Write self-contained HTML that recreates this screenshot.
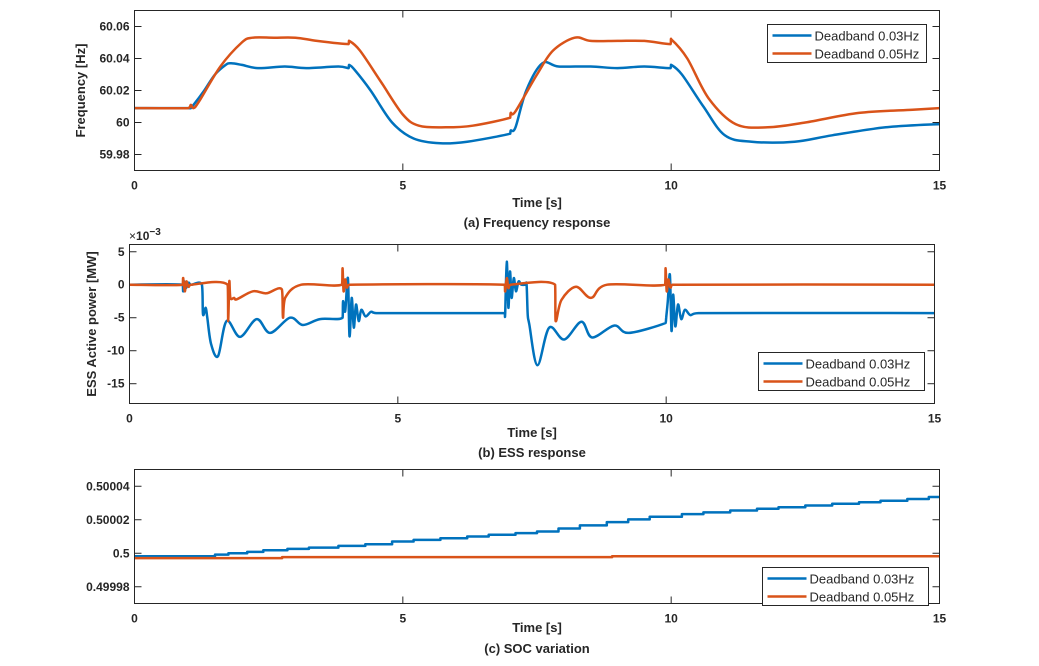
<!DOCTYPE html>
<html><head><meta charset="utf-8">
<style>
body{margin:0;background:#fff;}
svg text{font-family:"Liberation Sans",Arial,sans-serif;fill:#262626;}
.tk{font-size:12px;font-weight:bold;}
.lb{font-size:13px;font-weight:bold;}
.lg{font-size:13px;}
</style></head>
<body>
<svg id="fig" width="1039" height="661" viewBox="0 0 1039 661" xmlns="http://www.w3.org/2000/svg">
<rect width="1039" height="661" fill="#fff"/>
</svg>
<script>
// ---- Panel (a) frequency ----
const freqT = [0,1.0,1.05,1.1,1.3,1.5,1.7,1.8,2.0,2.3,2.8,3.2,3.8,3.99,4.0,4.1,4.4,4.8,5.2,5.7,6.2,7.0,7.01,7.1,7.3,7.6,7.9,8.5,9.0,9.5,9.99,10.0,10.2,10.6,11.0,11.5,12.3,13.0,14.0,15.0];
const freqBlue = [60.009,60.009,60.009,60.011,60.02,60.03,60.036,60.037,60.036,60.034,60.035,60.034,60.035,60.034,60.036,60.033,60.02,60.0,59.99,59.987,59.988,59.993,59.995,59.997,60.02,60.037,60.035,60.035,60.034,60.035,60.034,60.036,60.03,60.01,59.992,59.988,59.988,59.992,59.997,59.999];
const freqRedT = [0,1.0,1.05,1.1,1.2,1.6,2.0,2.2,2.6,3.0,3.4,3.99,4.0,4.2,4.6,5.0,5.3,5.8,6.3,7.0,7.01,7.1,7.5,7.8,8.2,8.5,9.0,9.5,9.99,10.0,10.3,10.7,11.2,11.8,12.5,13.5,14.5,15.0];
const freqRed = [60.009,60.009,60.011,60.009,60.013,60.035,60.05,60.053,60.053,60.053,60.051,60.049,60.051,60.045,60.025,60.005,59.998,59.997,59.998,60.003,60.006,60.007,60.03,60.045,60.053,60.051,60.051,60.051,60.049,60.052,60.04,60.015,59.999,59.997,60.0,60.006,60.008,60.009];
const freqTicks = [59.98,60,60.02,60.04,60.06];
const freqTickLabels = ["59.98","60","60.02","60.04","60.06"];
// ---- Panel (b) ESS power (x1e-3 MW) ----
const essBlueT = [0,0.99,1.0,1.02,1.05,1.1,1.15,1.35,1.37,1.42,1.45,1.52,1.65,1.81,2.06,2.37,2.62,2.99,3.23,3.55,3.97,3.98,4.02,4.07,4.1,4.14,4.18,4.22,4.27,4.32,4.4,4.5,4.6,6.99,7.0,7.03,7.06,7.09,7.12,7.16,7.2,7.25,7.3,7.38,7.4,7.42,7.45,7.6,7.82,8.1,8.42,8.62,9.03,9.3,9.99,10.0,10.03,10.07,10.1,10.13,10.17,10.22,10.28,10.35,10.45,10.6,15];
const essBlue = [0,0,-1,0.5,-0.5,0.3,0,0,-4.5,-3.5,-5,-9,-10.8,-5.5,-7.9,-5.2,-7.3,-5,-6.1,-5.2,-5,-2.5,-4,1,-7.8,-2,-6.5,-3,-5.5,-3.8,-4.8,-4.1,-4.3,-4.3,-4.3,3.5,-3.5,2,-2,1,-1,0.5,0,0,0,-4.5,-6,-12.2,-6.5,-8.3,-5.6,-8,-6.2,-7.3,-5.8,-5,-2.5,1.5,-7,-1.5,-6.3,-3,-5.2,-3.8,-4.6,-4.3,-4.3];
const essRedT = [0,0.99,1.0,1.03,1.06,1.1,1.15,1.83,1.84,1.86,1.88,1.95,2.0,2.3,2.55,2.84,2.86,2.9,3.2,3.96,3.97,3.99,4.02,4.05,4.1,6.99,7.0,7.03,7.06,7.1,7.93,7.94,8.05,8.32,8.6,8.9,9.98,9.99,10.01,10.04,10.08,10.12,15];
const essRed = [0,0,1,-1,0.5,-0.3,0,0,-5.5,0.5,-2,-2,-2.2,-1,-1.3,-0.7,-5,-2,0,0,2.5,-1,0.8,-0.4,0,0,-1,1,-0.5,0,0,-5.5,-2.3,-0.3,-2,0,0,2.5,-1,0.8,-0.4,0,0];
const essTicks = [-15,-10,-5,0,5];
const essTickLabels = ["-15","-10","-5","0","5"];
// ---- Panel (c) SOC (offset from 0.5, x1e-6) ----
const socBlueT = [0,1.5,1.75,2.1,2.4,2.85,3.25,3.8,4.3,4.8,5.2,5.7,6.2,6.6,7.1,7.5,7.9,8.3,8.8,9.2,9.6,10.2,10.6,11.1,11.6,12.0,12.5,13.0,13.5,13.9,14.4,14.8,15];
const socBlue = [-1.8,-0.8,0,0.8,1.8,2.6,3.4,4.4,5.4,7.0,8.0,9.0,10.0,11.0,12.0,13.0,14.8,16.6,18.6,20.2,21.8,23.4,24.4,25.5,26.6,27.5,28.5,29.5,30.5,31.4,32.4,33.6,33.6];
const socRedT = [0,2.75,8.9,15];
const socRed = [-2.9,-2.3,-1.8,-1.8];
const socTicks = [-20,0,20,40];
const socTickLabels = ["0.49998","0.5","0.50002","0.50004"];
const xTicks = [0,5,10,15];
const xTickLabels = ["0","5","10","15"];

const NS="http://www.w3.org/2000/svg";
const svg=document.getElementById('fig');
function mk(tag,attrs,parent){const e=document.createElementNS(NS,tag);for(const k in attrs)e.setAttribute(k,attrs[k]);(parent||svg).appendChild(e);return e;}

function smoothPath(pts){
  let d='M'+pts[0][0].toFixed(1)+','+pts[0][1].toFixed(1);
  for(let i=0;i<pts.length-1;i++){
    const p0=pts[Math.max(0,i-1)],p1=pts[i],p2=pts[i+1],p3=pts[Math.min(pts.length-1,i+2)];
    const c1x=p1[0]+(p2[0]-p0[0])/6,c1y=p1[1]+(p2[1]-p0[1])/6;
    const c2x=p2[0]-(p3[0]-p1[0])/6,c2y=p2[1]-(p3[1]-p1[1])/6;
    // keep control x within segment
    const cx1=Math.min(Math.max(c1x,p1[0]),p2[0]),cx2=Math.min(Math.max(c2x,p1[0]),p2[0]);
    d+='C'+cx1.toFixed(1)+','+c1y.toFixed(1)+' '+cx2.toFixed(1)+','+c2y.toFixed(1)+' '+p2[0].toFixed(1)+','+p2[1].toFixed(1);
  }
  return d;
}

function panel(cfg){
  const g=mk('g',{});
  
  
  const {x0,x1,y0,y1,ymin,ymax}=cfg;
  const sx=t=>x0+(t-0)/(15-0)*(x1-x0);
  const sy=v=>y1-(v-ymin)/(ymax-ymin)*(y1-y0);
  xTicks.forEach((t,i)=>{
    const x=sx(t);
    const a=mk('line',{x1:x,y1:y1,x2:x,y2:y1-7,stroke:'#262626','stroke-width':1},g);
    
    
    const b=mk('line',{x1:x,y1:y0,x2:x,y2:y0+7,stroke:'#262626','stroke-width':1},g);
    
    
    const tx=mk('text',{x:x,y:y1+19,'text-anchor':'middle',class:'tk'},g);
    tx.textContent=xTickLabels[i];
    
    
  });
  cfg.yt.forEach((v,i)=>{
    const y=sy(v);
    const a=mk('line',{x1:x0,y1:y,x2:x0+7,y2:y,stroke:'#262626','stroke-width':1},g);
    
    
    const b=mk('line',{x1:x1,y1:y,x2:x1-7,y2:y,stroke:'#262626','stroke-width':1},g);
    
    
    const tx=mk('text',{x:x0-5,y:y+4,'text-anchor':'end',class:'tk'},g);
    tx.textContent=cfg.ytl[i];
    
    
  });
  const cid='clip'+cfg.name;
  const cp=mk('clipPath',{id:cid},g);
  mk('rect',{x:x0,y:y0,width:x1-x0,height:y1-y0},cp);
  cfg.series.forEach(s=>{
    let d='';
    if(s.step){
      s.t.forEach((t,i)=>{
        const px=sx(t),py=sy(s.v[i]);
        if(i===0)d+='M'+px.toFixed(1)+','+py.toFixed(1);
        else d+='H'+px.toFixed(1)+'V'+py.toFixed(1);
      });
    } else {
      d=smoothPath(s.t.map((t,i)=>[sx(t),sy(s.v[i])]));
    }
    const p=mk('path',{d:d,fill:'none',stroke:s.color,'stroke-width':2.5,'stroke-linejoin':'round','clip-path':'url(#'+cid+')'},g);
    
    
  });
  const box=mk('rect',{x:x0,y:y0,width:x1-x0,height:y1-y0,fill:'none',stroke:'#262626','stroke-width':1},g);
  
  
  const L=cfg.leg;
  const lg=mk('g',{},g);
  
  
  mk('rect',{x:L.x,y:L.y,width:L.w,height:38,fill:'#fff',stroke:'#262626','stroke-width':1},lg);
  [['Deadband 0.03Hz','#0072BD'],['Deadband 0.05Hz','#D95319']].forEach((e,i)=>{
    const yy=L.y+11+i*18;
    const ln=mk('line',{x1:L.x+5,y1:yy,x2:L.x+44,y2:yy,stroke:e[1],'stroke-width':2.5},lg);
    
    
    const tx=mk('text',{x:L.x+47,y:yy+5,class:'lg'},lg);
    tx.textContent=e[0];
    
    
  });
  const xl=mk('text',{x:(x0+x1)/2,y:cfg.xly,'text-anchor':'middle',class:'lb'},g);
  xl.textContent='Time [s]';
  
  
  const cap=mk('text',{x:(x0+x1)/2,y:cfg.capy,'text-anchor':'middle',class:'lb'},g);
  cap.textContent=cfg.caption;
  
  
  if(cfg.ylabel){
    const cy=(y0+y1)/2;
    const yl=mk('text',{x:cfg.ylx,y:cy,'text-anchor':'middle',class:'lb',transform:'rotate(-90 '+cfg.ylx+' '+cy+')'},g);
    yl.textContent=cfg.ylabel;
    
    
  }
  return g;
}

panel({name:'frequency-panel',x0:134.5,x1:939.5,y0:10.5,y1:170.5,ymin:59.97,ymax:60.07,yt:freqTicks,ytl:freqTickLabels,
  series:[{name:'freq-line-003',t:freqT,v:freqBlue,color:'#0072BD'},{name:'freq-line-005',t:freqRedT,v:freqRed,color:'#D95319'}],
  leg:{x:767.5,y:24.5,w:159},xly:207,capy:227,caption:'(a) Frequency response',ylabel:'Frequency [Hz]',ylx:85});
panel({name:'ess-panel',x0:129.5,x1:934.5,y0:244.5,y1:403.5,ymin:-18,ymax:6.1,yt:essTicks,ytl:essTickLabels,
  series:[{name:'ess-line-003',t:essBlueT,v:essBlue,color:'#0072BD'},{name:'ess-line-005',t:essRedT,v:essRed,color:'#D95319'}],
  leg:{x:758.5,y:352.5,w:166},xly:437,capy:457,caption:'(b) ESS response',ylabel:'ESS Active power [MW]',ylx:96});
panel({name:'soc-panel',x0:134.5,x1:939.5,y0:469.5,y1:603.5,ymin:-30,ymax:50,yt:socTicks,ytl:socTickLabels,
  series:[{name:'soc-line-003',t:socBlueT,v:socBlue,color:'#0072BD',step:true},{name:'soc-line-005',t:socRedT,v:socRed,color:'#D95319',step:true}],
  leg:{x:762.5,y:567.5,w:166},xly:632,capy:653,caption:'(c) SOC variation'});
const ex=mk('text',{x:129,y:240,class:'tk'});
ex.innerHTML='<tspan font-weight="normal">×</tspan>10<tspan dy="-5" font-size="10">−3</tspan>';


</script>
</body></html>
